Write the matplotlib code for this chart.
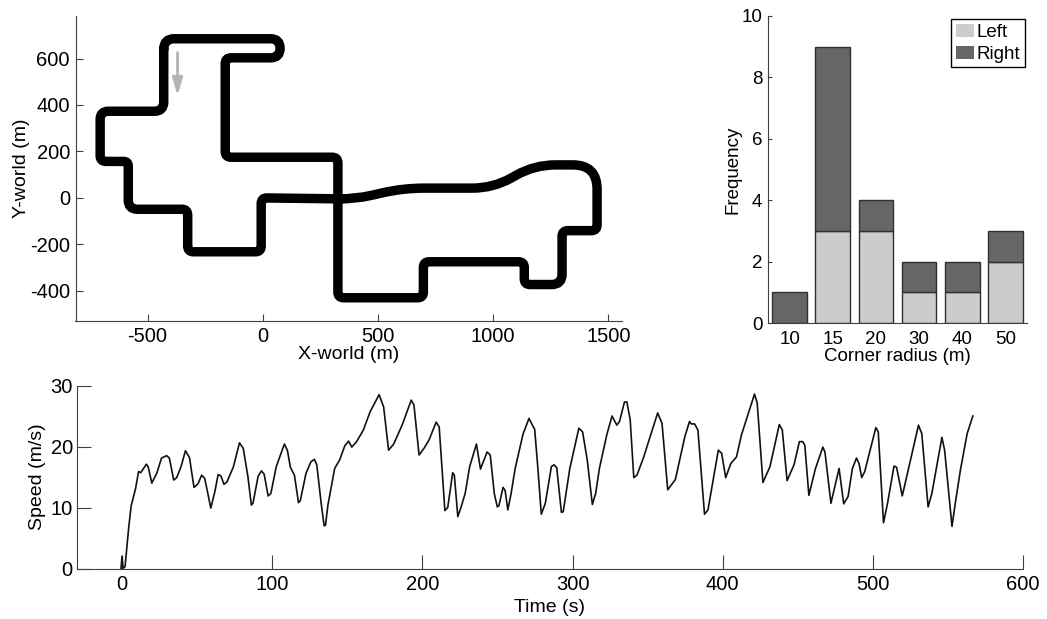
#!/usr/bin/python3
import matplotlib
matplotlib.use("Agg")
import matplotlib.pyplot as plt
import numpy as np
from matplotlib.path import Path
from matplotlib.patches import PathPatch

plt.rcParams['font.family'] = ['Liberation Sans', 'DejaVu Sans']
plt.rcParams['font.size'] = 14
plt.rcParams['axes.unicode_minus'] = False

W, H = 1047, 619

# track corners (m), and how far each corner is rounded
track_x = [-430, 75, 75, -163, -163, 326, 326, 697, 697, 1135, 1135, 1299, 1299, 1451, 1451,
           1180, 1000, 610, 400, -7, -7, -326, -326, -584, -584, -706, -706, -430]
track_y = [685, 685, 603, 603, 175, 175, -430, -430, -275, -275, -373, -373, -141, -141, 142,
           142, 42, 42, -5, 0, -232, -232, -49, -49, 157, 157, 373, 373]
track_round = [45, 41, 41, 25, 25, 25, 25, 25, 25, 25, 25, 45, 25, 25, 105,
               90, 90, 90, 70, 25, 25, 25, 25, 40, 20, 25, 35, 40]

radius_labels = ['10', '15', '20', '30', '40', '50']
left_counts = [0, 3, 3, 1, 1, 2]
right_counts = [1, 6, 1, 1, 1, 1]

time_s = [-0.7, 0, 0.7, 2, 4.5, 6.1, 9, 11, 12.4, 16.2, 17.5, 19.8, 23.1, 26.3, 29.7, 31.5, 34.4, 36.4, 39.3, 42.2,
          44.9, 47.9, 50.6, 53, 55, 56.9, 59.1, 61.8, 64, 65.8, 67.9, 69.9, 74.2, 78.2, 80.7, 83.8, 86.1, 87.2, 90.6,
          92.8, 94.6, 97.3, 99.1, 102.7, 108.1, 110.1, 112.1, 114.8, 117.5, 118.7, 122.5, 125.8, 128.1, 129.7, 132.6,
          134.6, 135.5, 137.1, 141.6, 144.9, 148.5, 149.7, 150.8, 153, 156.2, 160.7, 165.2, 171.2, 174.2, 177.5,
          180.9, 186.5, 192.6, 194.4, 197.8, 201.1, 204.5, 209.2, 211.2, 215, 216.9, 220.2, 221.3, 223.6, 225.8,
          228.5, 231.5, 236, 238.7, 243.1, 245.2, 247.9, 249.9, 251, 253.7, 255.1, 256.9, 259.1, 261.8, 267, 271,
          274.8, 277, 279.2, 281.9, 285.9, 287.7, 289.5, 292.6, 293.8, 298.2, 304.2, 306.7, 309.8, 313.2, 315.4,
          317.9, 322.8, 326.3, 329.5, 331.3, 334.6, 336.2, 338.4, 340.8, 342.9, 347.3, 356.7, 359.6, 363.4, 368.5,
          374.8, 377.9, 379, 381.3, 383.5, 387.9, 390.2, 397.1, 399.3, 402, 405.4, 409.2, 412.5, 421.2, 423, 426.8,
          431.5, 437.7, 439.7, 442.9, 447.5, 451.1, 453.3, 454.7, 457.4, 461.8, 466.7, 468.1, 472.1, 477.5, 480.6,
          483.5, 486.4, 489.1, 490.8, 492.6, 494.6, 502, 503.6, 507.1, 509.8, 514.1, 515.8, 519.6, 530.4, 532.6,
          536.8, 539.3, 546, 547.8, 552.7, 554.9, 558.3, 562.8, 566.6]
speed = [0, 2, 0, 0.3, 6.9, 10.3, 13.1, 15.9, 15.7, 17.1, 16.6, 14, 15.6, 18.1, 18.5, 18.1, 14.5, 14.9, 16.7, 19.3,
         18.2, 13.3, 13.9, 15.3, 14.8, 12.6, 9.9, 12.6, 15.4, 15.2, 13.8, 14.2, 16.7, 20.6, 19.7, 15.1, 10.4, 10.7, 15.1,
         16, 15.5, 11.9, 12.3, 16.7, 20.4, 19.4, 16.6, 15.3, 10.8, 11.1, 15.6, 17.5, 17.9, 17, 10.7,
         7, 7.1, 10.4, 16.4, 17.8, 20.2, 20.5, 20.9, 19.9, 20.8, 22.7, 25.7, 28.5, 26.5, 19.4,
         20.4, 23.5, 27.6, 26.8, 18.6, 19.7, 21.1, 24, 23.2, 9.5, 10, 15.7, 15.3, 8.5, 10.1,
         12.3, 16.7, 20.4, 16.3, 19.1, 18.6, 12.3, 10.1, 10.3, 13.3, 12.8, 9.6, 12.3, 16.4, 22, 24.6,
         22.8, 16.2, 8.9, 10.7, 16.7, 17, 16.5, 9.2, 9.3, 16.4, 23, 22.4, 17.8, 10.5, 12.3,
         16.4, 21.9, 25, 23.5, 24.1, 27.3, 27.3, 24.4, 14.9, 15.3, 18.2, 25.5, 23.8, 12.9, 14.6,
         21.6, 24.1, 23.7, 23.7, 22.7, 8.9, 9.6, 19.4, 18.9, 14.9, 17.2, 18.3, 21.9, 28.6, 27.1, 14.1,
         16.7, 23.6, 22.7, 14.4, 17, 20.8, 20.8, 20.2, 12, 16.4, 19.9, 19.1, 10.7, 16.4, 10.6,
         11.8, 16.4, 18.1, 17.2, 14.9, 15.9, 23.1, 22.4, 7.5, 10.7, 16.8, 16.6, 11.9, 23.5, 22.1,
         10.1, 12.3, 21.5, 19.4, 6.9, 10.7, 16.1, 22.1, 25]

spine_col = '#404040'


def make_axes(left, right, top, bottom):
    ax = fig.add_axes([left / W, 1 - bottom / H, (right - left) / W, (bottom - top) / H])
    ax.spines['top'].set_visible(False)
    ax.spines['right'].set_visible(False)
    ax.spines['left'].set_color(spine_col)
    ax.spines['bottom'].set_color(spine_col)
    return ax


def rounded_loop(xs, ys, rounds):
    # closed path: straight runs joined by a quadratic curve at each corner
    pts = np.column_stack([xs, ys]).astype(float)
    verts, codes = [], []
    n = len(pts)
    for i in range(n):
        before = pts[i - 1] - pts[i]
        after = pts[(i + 1) % n] - pts[i]
        start = pts[i] + before / np.hypot(*before) * rounds[i]
        end = pts[i] + after / np.hypot(*after) * rounds[i]
        verts += [start, pts[i], end]
        codes += [Path.MOVETO if i == 0 else Path.LINETO, Path.CURVE3, Path.CURVE3]
    verts.append(verts[0])
    codes.append(Path.LINETO)
    return Path(verts, codes)


fig = plt.figure(figsize=(W / 100, H / 100), dpi=100)

# track map
ax1 = make_axes(75.5, 621.5, 16, 321)
ax1.add_patch(PathPatch(rounded_loop(track_x, track_y, track_round), fill=False, edgecolor='black', lw=6.8,
                        joinstyle='round', capstyle='round'))
ax1.annotate('', xy=(-370, 440), xytext=(-370, 625),
             arrowprops=dict(arrowstyle='-|>,head_width=0.22,head_length=0.75', color='#b4b4b4', lw=2,
                             shrinkA=0, shrinkB=0))
ax1.set_xlim(-813, 1557)
ax1.set_ylim(-530, 783)
ax1.set_xticks([-500, 0, 500, 1000, 1500])
ax1.set_yticks([-400, -200, 0, 200, 400, 600])
ax1.tick_params(direction='in', length=5, width=0.8, color=spine_col, pad=4, labelsize=14.5)
ax1.set_xlabel('X-world (m)', labelpad=0)
ax1.set_ylabel('Y-world (m)', labelpad=0)

# corner histogram
ax2 = make_axes(768, 1027, 16, 323)
pos = list(range(1, len(radius_labels) + 1))
ax2.bar(pos, left_counts, 0.8, color='#cccccc', edgecolor='#303030', lw=1, label='Left')
ax2.bar(pos, right_counts, 0.8, bottom=left_counts, color='#666666', edgecolor='#303030', lw=1, label='Right')
ax2.set_xlim(0.5, 6.5)
ax2.set_ylim(0, 10)
ax2.set_xticks(pos)
ax2.set_xticklabels(radius_labels)
ax2.set_yticks([0, 2, 4, 6, 8, 10])
ax2.tick_params(direction='in', length=3, width=0.8, color=spine_col, pad=4, labelsize=13.5)
ax2.tick_params(axis='x', length=0, pad=6)
ax2.set_xlabel('Corner radius (m)', labelpad=0, fontsize=13.5)
ax2.set_ylabel('Frequency', labelpad=0, fontsize=13.5)
leg = ax2.legend(loc='upper right', bbox_to_anchor=(1024.5 / W, 1 - 19 / H), bbox_transform=fig.transFigure,
                 fancybox=False, framealpha=1, edgecolor='black', borderpad=0.25, labelspacing=0.25,
                 handlelength=1.0, handleheight=0.7, handletextpad=0.1, borderaxespad=0, fontsize=13.5)
for patch in leg.get_patches():
    patch.set_edgecolor('none')

# speed trace
ax3 = make_axes(77, 1023, 385.5, 568.5)
ax3.plot(time_s, speed, color='#111111', lw=1.2, solid_joinstyle='round')
ax3.set_xlim(-30, 600)
ax3.set_ylim(0, 30)
ax3.set_xticks([0, 100, 200, 300, 400, 500, 600])
ax3.set_yticks([0, 10, 20, 30])
ax3.tick_params(direction='in', length=10, width=0.8, color=spine_col, pad=5, labelsize=14.5)
ax3.tick_params(axis='y', pad=3)
ax3.set_xlabel('Time (s)', labelpad=3)
ax3.set_ylabel('Speed (m/s)', labelpad=3)

fig.savefig('out.png', dpi=100)
